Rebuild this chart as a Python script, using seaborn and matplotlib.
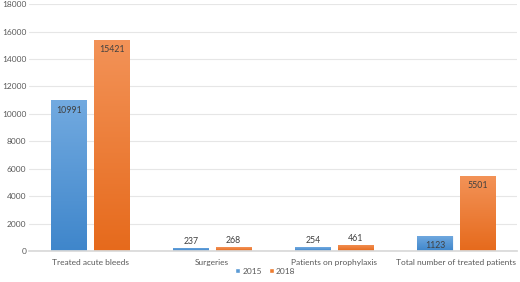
import numpy as np
import pandas as pd
import matplotlib
matplotlib.use("Agg")
import matplotlib.pyplot as plt
import seaborn as sns
from matplotlib.colors import LinearSegmentedColormap
from matplotlib.patches import Patch

categories = ["Treated acute bleeds", "Surgeries", "Patients on prophylaxis",
              "Total number of treated patients"]
values_2015 = [10991, 237, 254, 1123]
values_2018 = [15421, 268, 461, 5501]
years = ["2015", "2018"]

sns.set_theme(style="whitegrid")
plt.rcParams["font.family"] = ["Lato", "DejaVu Sans"]

df = pd.DataFrame({
    "category": categories * 2,
    "year": [years[0]] * 4 + [years[1]] * 4,
    "value": values_2015 + values_2018,
})

fig, ax = plt.subplots(figsize=(5.2, 2.82), dpi=100)
fig.subplots_adjust(left=0.056, right=0.995, top=0.985, bottom=0.11)

palette = {"2015": "#5B9BD5", "2018": "#ED7D31"}
sns.barplot(data=df, x="category", y="value", hue="year", palette=palette,
            width=0.7, gap=0.18, ax=ax, legend=False)

# gradient fill like the Excel original
grads = {
    "2015": LinearSegmentedColormap.from_list("b", ["#3F86CB", "#72AAE0"]),
    "2018": LinearSegmentedColormap.from_list("o", ["#E66A1C", "#F39358"]),
}
grad = np.linspace(0, 1, 256).reshape(-1, 1)
for container, yr in zip(ax.containers, years):
    for bar in container:
        x0, w, h = bar.get_x(), bar.get_width(), bar.get_height()
        bar.set_edgecolor("white")
        bar.set_linewidth(0.6)
        im = ax.imshow(grad, cmap=grads[yr], origin="lower", aspect="auto",
                       extent=(x0, x0 + w, 0, h), zorder=bar.get_zorder())
        im.set_clip_path(bar)
    for bar, v in zip(container, container.datavalues):
        cx = bar.get_x() + bar.get_width() / 2
        h = bar.get_height()
        if v > 1000:
            ax.text(cx, h - 400, f"{int(v)}", ha="center", va="top",
                    fontsize=6.3, color="#404040", zorder=5)
        else:
            ax.text(cx, h + 150, f"{int(v)}", ha="center", va="bottom",
                    fontsize=6.3, color="#404040", zorder=5)

ax.set_xlim(-0.5, 3.5)
ax.set_ylim(0, 18000)
ax.set_yticks(range(0, 18001, 2000))
ax.set_xlabel("")
ax.set_ylabel("")
ax.tick_params(axis="both", labelsize=6, colors="#595959", length=0, pad=2)
ax.tick_params(axis="x", pad=6)
ax.grid(axis="y", color="#E6E6E6", linewidth=0.8)
ax.grid(axis="x", visible=False)
for s in ["top", "right", "left"]:
    ax.spines[s].set_visible(False)
ax.spines["bottom"].set_color("#D9D9D9")
ax.set_facecolor("white")

handles = [Patch(facecolor=palette[y], label=y) for y in years]
fig.legend(handles=handles, loc="lower center", bbox_to_anchor=(0.51, 0.0), ncol=2,
           frameon=False, fontsize=6, handlelength=0.6, handleheight=0.6,
           handletextpad=0.3, columnspacing=0.8, labelcolor="#595959")

fig.savefig("out.png", dpi=100)
